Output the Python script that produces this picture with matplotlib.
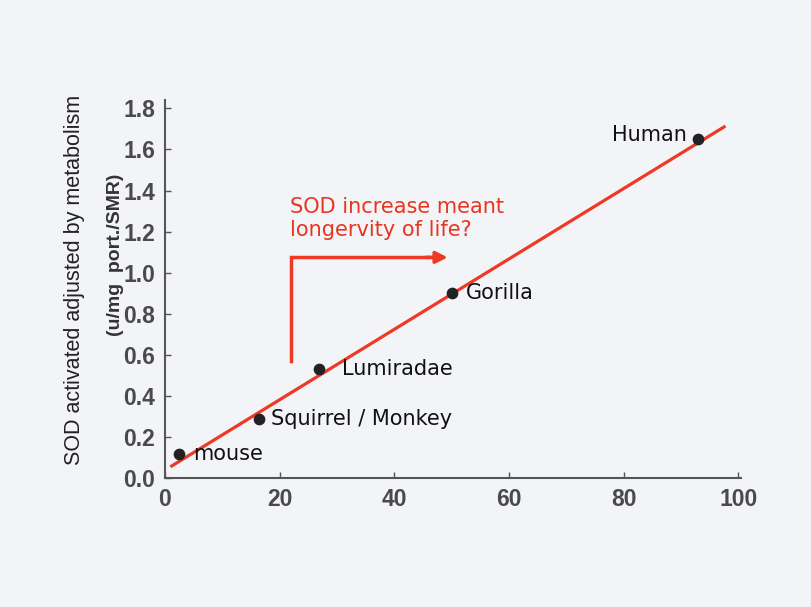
import numpy as np
import matplotlib.pyplot as plt

# data
species = ["mouse", "Squirrel / Monkey", "Lumiradae", "Gorilla", "Human"]
life_span = [2.5, 16.5, 26.8, 50.0, 93.0]
sod_level = [0.12, 0.29, 0.53, 0.90, 1.65]

fit_x = [1.2, 97.5]
fit_y = [0.06, 1.71]

x_ticks = [0, 20, 40, 60, 80, 100]
y_ticks = [0.0, 0.2, 0.4, 0.6, 0.8, 1.0, 1.2, 1.4, 1.6, 1.8]

bg = "#f3f4f7"
red = "#ee3a24"
fig = plt.figure(figsize=(8.12, 6.07), dpi=100, facecolor=bg)
ax = fig.add_axes([0.203, 0.212, 0.71, 0.623])
ax.set_facecolor(bg)

ax.plot(fit_x, fit_y, color=red, lw=2.3, zorder=2)
ax.scatter(life_span, sod_level, s=55, color="#222222", zorder=3)

# point labels
offsets = {"mouse": (2.5, 0.0, "left"),
           "Squirrel / Monkey": (2.0, 0.0, "left"),
           "Lumiradae": (4.0, 0.0, "left"),
           "Gorilla": (2.5, 0.0, "left"),
           "Human": (-2.0, 0.02, "right")}
for name, x, y in zip(species, life_span, sod_level):
    dx, dy, ha = offsets[name]
    ax.text(x + dx, y + dy, name, fontsize=15, color="#111111",
            ha=ha, va="center", family="DejaVu Sans")

# annotation arrow and text
ax.plot([22.0, 22.0, 46.0], [0.57, 1.075, 1.075], color=red, lw=2.5,
        solid_joinstyle="miter", zorder=2)
ax.annotate("", xy=(49.8, 1.075), xytext=(45.0, 1.075),
            arrowprops=dict(arrowstyle="-|>,head_length=0.7,head_width=0.35",
                            color=red, lw=2.5))
ax.text(21.8, 1.265, "SOD increase meant\nlongervity of life?", color="#e8351f",
        fontsize=15, ha="left", va="center", linespacing=1.2,
        family="DejaVu Sans")

ax.set_xlim(0, 100.5)
ax.set_ylim(0, 1.84)
ax.set_xticks(x_ticks)
ax.set_yticks(y_ticks)
ax.set_yticklabels([f"{v:.1f}" for v in y_ticks])
ax.tick_params(direction="in", length=4, width=1, colors="#555555",
               labelsize=16.5, labelcolor="#4a4a4a", pad=7)
for lab in ax.get_xticklabels() + ax.get_yticklabels():
    lab.set_family("Liberation Sans")
    lab.set_fontweight("bold")

for side in ["top", "right"]:
    ax.spines[side].set_visible(False)
for side in ["left", "bottom"]:
    ax.spines[side].set_color("#555555")
    ax.spines[side].set_linewidth(1.5)

fig.text(0.092, 0.539, "SOD activated adjusted by metabolism", rotation=90,
         fontsize=15.5, ha="center", va="center", color="#222222",
         family="Liberation Sans")
fig.text(0.142, 0.58, "(u/mg  port./SMR)", rotation=90, fontsize=14,
         fontweight="bold", ha="center", va="center", color="#333333",
         family="Liberation Sans")

fig.savefig("out.png", dpi=100, facecolor=bg)
